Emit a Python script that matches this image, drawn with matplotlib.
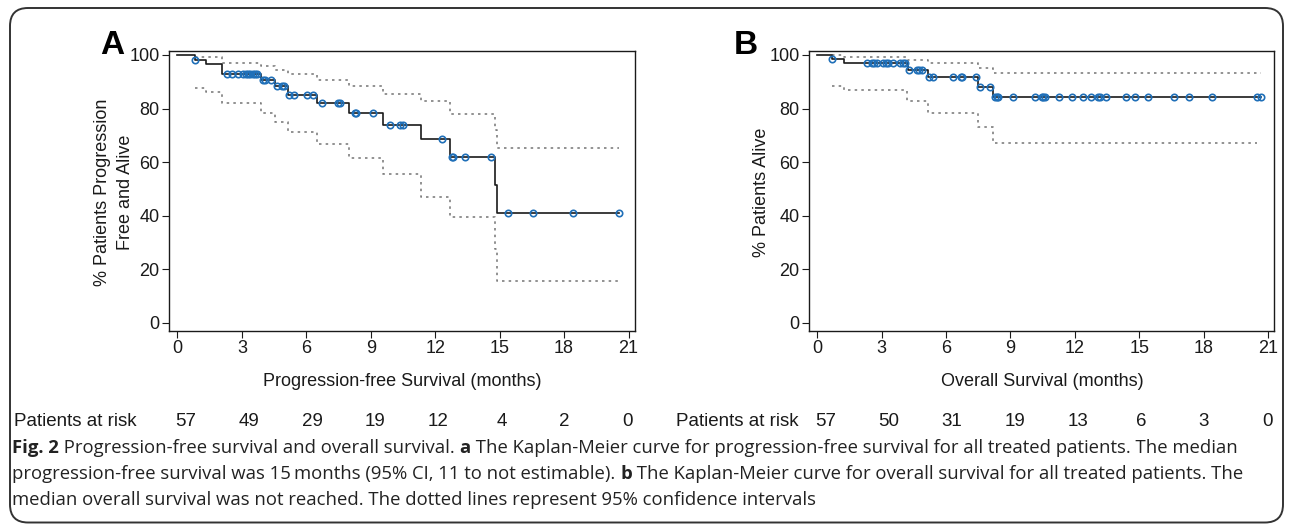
import numpy as np
import matplotlib

matplotlib.use("Agg")
import matplotlib.pyplot as plt
from matplotlib.patches import FancyBboxPatch
from matplotlib.transforms import IdentityTransform, blended_transform_factory

W, H, DPI = 1293, 525, 100
BLUE = "#1f6fb8"
GREY = "#7f7f7f"
INK = "#1a1a1a"

plt.rcParams.update({
    "font.family": ["Liberation Sans", "DejaVu Sans"],
    "axes.linewidth": 1.0,
    "xtick.major.size": 5,
    "ytick.major.size": 5,
    "xtick.labelsize": 13,
    "ytick.labelsize": 13,
})

# --- data -------------------------------------------------------------------
# A: progression-free survival (months, % patients)
pfs_t = [0, 0.82, 1.31, 2.06, 3.87, 4.54, 5.16, 6.48, 7.99, 9.59, 11.34, 12.71, 14.76, 14.87]
pfs_s = [100, 98.2, 96.5, 92.9, 90.6, 88.3, 85.2, 82.0, 78.3, 74.0, 68.5, 61.8, 51.3, 41.1]
pfs_end = 20.56
pfs_up_t = [0.82, 2.06, 3.87, 4.54, 5.16, 6.48, 7.99, 9.59, 11.34, 12.71, 14.76, 14.87]
pfs_up = [99.1, 97.1, 95.9, 94.3, 93.0, 90.6, 88.5, 85.4, 82.7, 78.1, 71.9, 65.1]
pfs_lo_t = [0.82, 1.31, 2.06, 3.87, 4.54, 5.16, 6.48, 7.99, 9.59, 11.34, 12.71, 14.76, 14.87]
pfs_lo = [87.8, 86.3, 81.9, 78.3, 75.1, 71.4, 66.6, 61.4, 55.4, 47.1, 39.3, 27.5, 15.5]
pfs_cens = [0.82, 2.31, 2.54, 2.82, 3.05, 3.19, 3.28, 3.37, 3.51, 3.61, 3.70,
            3.97, 4.08, 4.34, 4.65, 4.85, 4.96, 5.21, 5.44, 6.02, 6.33,
            6.74, 7.46, 7.57, 8.27, 8.31, 9.09, 9.90, 10.36, 10.52, 12.33,
            12.77, 12.85, 13.39, 14.59, 15.38, 16.53, 18.41, 20.56]
pfs_risk = [57, 49, 29, 19, 12, 4, 2, 0]

# B: overall survival
os_t = [0, 0.70, 1.24, 4.21, 5.14, 7.47, 8.19]
os_s = [100, 98.5, 96.9, 94.4, 91.6, 88.2, 84.2]
os_end = 20.69
os_up_t = [0.70, 1.24, 4.16, 5.14, 7.47, 8.19]
os_up = [99.9, 99.1, 98.1, 96.9, 95.3, 93.2]
os_up_end = 20.69
os_lo_t = [0.70, 1.24, 4.16, 5.14, 7.47, 8.19]
os_lo = [88.5, 86.9, 82.9, 78.4, 73.2, 67.1]
os_lo_end = 20.50
os_cens = [0.70, 2.30, 2.53, 2.64, 2.77, 3.07, 3.20, 3.31, 3.54, 3.85, 3.98, 4.08,
           4.28, 4.63, 4.75, 4.86, 5.20, 5.40, 6.30, 6.69, 6.75, 7.39, 7.58, 8.04,
           8.27, 8.35, 8.43, 9.12, 10.14, 10.45, 10.52, 10.60, 11.27, 11.87, 12.36,
           12.77, 13.08, 13.16, 13.47, 14.37, 14.79, 15.41, 16.61, 17.32, 18.41,
           20.50, 20.69]
os_risk = [57, 50, 31, 19, 13, 6, 3, 0]

xticks = [0, 3, 6, 9, 12, 15, 18, 21]
yticks = [0, 20, 40, 60, 80, 100]


def step_to(ax, t, s, end, **kw):
    ax.step(list(t) + [end], list(s) + [s[-1]], where="post", **kw)


def level_at(t, s, x):
    i = np.searchsorted(t, x, side="right") - 1
    return np.asarray(s)[i]


def panel(rect, t, s, end, up_t, up, up_end, lo_t, lo, lo_end, cens):
    ax = fig.add_axes(rect)
    step_to(ax, up_t, up, up_end, color=GREY, lw=1.2, ls=(0, (1.5, 2.5)))
    step_to(ax, lo_t, lo, lo_end, color=GREY, lw=1.2, ls=(0, (1.5, 2.5)))
    step_to(ax, t, s, end, color=INK, lw=1.2)
    ax.plot(cens, level_at(t, s, cens), ls="none", marker="o", ms=4.6,
            mfc="none", mec=BLUE, mew=1.2)
    ax.set_xlim(-0.38, 21.3)
    ax.set_ylim(-3.0, 101.6)
    ax.set_xticks(xticks)
    ax.set_yticks(yticks)
    ax.tick_params(direction="out", color=INK, labelcolor=INK, pad=2)
    for sp in ax.spines.values():
        sp.set_color(INK)
    return ax


fig = plt.figure(figsize=(W / DPI, H / DPI), dpi=DPI)

# rounded frame around the figure
frame = FancyBboxPatch((10, 2.5), 1273, 514.5, boxstyle="round,pad=0,rounding_size=18",
                       transform=IdentityTransform(), fill=False, ec="#333333", lw=1.4)
fig.add_artist(frame)

ax_a = panel([169.3 / W, 1 - 330.7 / H, (635 - 169.3) / W, (330.7 - 50.7) / H],
             pfs_t, pfs_s, pfs_end, pfs_up_t, pfs_up, pfs_end, pfs_lo_t, pfs_lo, pfs_end,
             pfs_cens)
ax_b = panel([809.3 / W, 1 - 330.7 / H, (1274.3 - 809.3) / W, (330.7 - 50.7) / H],
             os_t, os_s, os_end, os_up_t, os_up, os_up_end, os_lo_t, os_lo, os_lo_end,
             os_cens)

# panel letters and axis titles
fig.text(112 / W, 1 - 45 / H, "A", fontsize=24, fontweight="bold", ha="center", va="center")
fig.text(746 / W, 1 - 45 / H, "B", fontsize=24, fontweight="bold", ha="center", va="center")
fig.text(114 / W, 1 - 192 / H, "% Patients Progression\nFree and Alive", rotation=90,
         fontsize=13, ha="center", va="center", linespacing=1.4, color=INK)
fig.text(762 / W, 1 - 192 / H, "% Patients Alive", rotation=90,
         fontsize=13, ha="center", va="center", color=INK)
fig.text(402 / W, 1 - 382 / H, "Progression-free Survival (months)", fontsize=13,
         ha="center", va="center", color=INK)
fig.text(1042 / W, 1 - 382 / H, "Overall Survival (months)", fontsize=13,
         ha="center", va="center", color=INK)

# patients at risk rows (numbers sit slightly inside each tick)
risk_x = np.linspace(0.4, 20.96, len(xticks))
for ax, risk, x0 in ((ax_a, pfs_risk, 14), (ax_b, os_risk, 676)):
    fig.text(x0 / W, 1 - 421 / H, "Patients at risk", fontsize=13.5, ha="left",
             va="center", color=INK)
    tr = blended_transform_factory(ax.transData, fig.transFigure)
    for xr, n in zip(risk_x, risk):
        ax.text(xr, 1 - 421 / H, str(n), transform=tr, fontsize=13.5,
                ha="center", va="center", color=INK)

# caption with bold runs
caption = [
    [("Fig. 2", "bold"), (" Progression-free survival and overall survival. ", "normal"),
     ("a", "bold"), (" The Kaplan-Meier curve for progression-free survival for all treated patients. The median", "normal")],
    [("progression-free survival was 15\u2009months (95% CI, 11 to not estimable). ", "normal"),
     ("b", "bold"), (" The Kaplan-Meier curve for overall survival for all treated patients. The", "normal")],
    [("median overall survival was not reached. The dotted lines represent 95% confidence intervals", "normal")],
]
renderer = fig.canvas.get_renderer()
for k, line in enumerate(caption):
    x = 12
    y = 1 - (448 + 26 * k) / H
    for txt, wt in line:
        t = fig.text(x / W, y, txt, fontsize=13.3, fontweight=wt, ha="left", va="center",
                     family=["Open Sans", "DejaVu Sans"], color="#222222")
        x += t.get_window_extent(renderer).width

fig.savefig("out.png", dpi=DPI)
